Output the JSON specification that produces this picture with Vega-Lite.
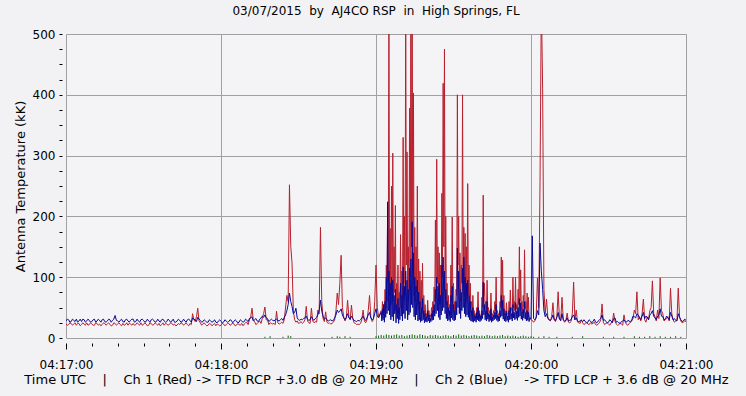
{
"$schema": "https://vega.github.io/schema/vega-lite/v6.json",
"width": 620,
"height": 304,
"autosize": {"type": "none"},
"padding": {"left": 66, "top": 34, "right": 60, "bottom": 58},
"background": "#F2F2F4",
"config": {"view": {"stroke": "#A0A0A0", "fill": "#F4F4F6"}, "font": "DejaVu Sans"},
"title": {"text": "03/07/2015\u00a0 by\u00a0 AJ4CO RSP\u00a0 in\u00a0 High Springs, FL", "fontSize": 12, "fontWeight": "normal", "color": "#000000", "offset": 10, "font": "DejaVu Sans"},
"datasets": {
"rb": [
{"t":0,"r":23,"b":28},{"t":1,"r":22,"b":30},{"t":2,"r":24,"b":27},{"t":3,"r":23,"b":29},{"t":4,"r":21,"b":31},{"t":5,"r":24,"b":28},{"t":6,"r":22,"b":27},{"t":7,"r":23,"b":30},{"t":8,"r":25,"b":28},{"t":9,"r":22,"b":29},
{"t":10,"r":23,"b":27},{"t":11,"r":21,"b":31},{"t":12,"r":24,"b":28},{"t":13,"r":23,"b":29},{"t":14,"r":22,"b":30},{"t":15,"r":24,"b":27},{"t":16,"r":23,"b":28},{"t":17,"r":22,"b":30},{"t":18,"r":21,"b":29},{"t":19,"r":24,"b":37},
{"t":20,"r":23,"b":28},{"t":21,"r":22,"b":29},{"t":22,"r":24,"b":27},{"t":23,"r":22,"b":30},{"t":24,"r":21,"b":28},{"t":25,"r":23,"b":29},{"t":26,"r":24,"b":31},{"t":27,"r":22,"b":27},{"t":28,"r":23,"b":28},{"t":29,"r":25,"b":30},
{"t":30,"r":22,"b":29},{"t":31,"r":23,"b":27},{"t":32,"r":21,"b":28},{"t":33,"r":24,"b":30},{"t":34,"r":22,"b":29},{"t":35,"r":23,"b":27},{"t":36,"r":24,"b":28},{"t":37,"r":22,"b":30},{"t":38,"r":21,"b":28},{"t":39,"r":23,"b":27},
{"t":40,"r":22,"b":29},{"t":41,"r":24,"b":28},{"t":42,"r":23,"b":26},{"t":43,"r":21,"b":28},{"t":44,"r":22,"b":29},{"t":45,"r":24,"b":27},{"t":46,"r":23,"b":28},{"t":47,"r":22,"b":30},{"t":48,"r":24,"b":29},{"t":49,"r":40,"b":33},
{"t":50,"r":27,"b":30},{"t":51,"r":49,"b":34},{"t":52,"r":25,"b":29},{"t":53,"r":23,"b":27},{"t":54,"r":22,"b":28},{"t":55,"r":21,"b":26},{"t":56,"r":23,"b":28},{"t":57,"r":22,"b":27},{"t":58,"r":20,"b":26},{"t":59,"r":22,"b":28},
{"t":60,"r":21,"b":27},{"t":61,"r":23,"b":26},{"t":62,"r":22,"b":28},{"t":63,"r":24,"b":27},{"t":64,"r":22,"b":29},{"t":65,"r":23,"b":27},{"t":66,"r":21,"b":28},{"t":67,"r":22,"b":26},{"t":68,"r":24,"b":28},{"t":69,"r":23,"b":27},
{"t":70,"r":26,"b":29},{"t":71,"r":30,"b":32},{"t":72,"r":49,"b":35},{"t":73,"r":27,"b":30},{"t":74,"r":24,"b":28},{"t":75,"r":28,"b":31},{"t":76,"r":33,"b":36},{"t":77,"r":51,"b":38},{"t":78,"r":30,"b":32},{"t":79,"r":25,"b":29},
{"t":0.5,"r":21,"b":31},{"t":1.5,"r":25,"b":26},{"t":2.5,"r":21,"b":31},{"t":3.5,"r":25,"b":27},{"t":4.5,"r":24,"b":26},{"t":5.5,"r":20,"b":31},{"t":6.5,"r":25,"b":31},{"t":7.5,"r":21,"b":26},{"t":8.5,"r":21,"b":31},{"t":9.5,"r":25,"b":26},
{"t":10.5,"r":21,"b":30},{"t":11.5,"r":25,"b":26},{"t":12.5,"r":21,"b":31},{"t":13.5,"r":20,"b":26},{"t":14.5,"r":25,"b":31},{"t":15.5,"r":21,"b":26},{"t":16.5,"r":25,"b":31},{"t":17.5,"r":20,"b":26},{"t":18.5,"r":25,"b":31},{"t":19.5,"r":21,"b":29},
{"t":20.5,"r":25,"b":26},{"t":21.5,"r":20,"b":31},{"t":22.5,"r":21,"b":26},{"t":23.5,"r":25,"b":31},{"t":24.5,"r":24,"b":26},{"t":25.5,"r":21,"b":31},{"t":26.5,"r":21,"b":26},{"t":27.5,"r":25,"b":31},{"t":28.5,"r":21,"b":26},{"t":29.5,"r":21,"b":31},
{"t":30.5,"r":25,"b":26},{"t":31.5,"r":20,"b":31},{"t":32.5,"r":25,"b":26},{"t":33.5,"r":21,"b":31},{"t":34.5,"r":25,"b":26},{"t":35.5,"r":21,"b":31},{"t":36.5,"r":20,"b":26},{"t":37.5,"r":25,"b":31},{"t":38.5,"r":24,"b":26},{"t":39.5,"r":21,"b":31},
{"t":40.5,"r":25,"b":26},{"t":41.5,"r":21,"b":31},{"t":42.5,"r":20,"b":26},{"t":43.5,"r":24,"b":31},{"t":44.5,"r":25,"b":26},{"t":45.5,"r":21,"b":31},{"t":46.5,"r":25,"b":26},{"t":47.5,"r":20,"b":31},{"t":48.5,"r":22,"b":26},{"t":49.5,"r":30,"b":31},
{"t":50.5,"r":35,"b":27},{"t":51.5,"r":28,"b":31},{"t":52.5,"r":21,"b":26},{"t":53.5,"r":25,"b":30},{"t":54.5,"r":20,"b":26},{"t":55.5,"r":24,"b":30},{"t":56.5,"r":20,"b":26},{"t":57.5,"r":24,"b":30},{"t":58.5,"r":23,"b":25},{"t":59.5,"r":20,"b":30},
{"t":60.5,"r":24,"b":25},{"t":61.5,"r":20,"b":30},{"t":62.5,"r":24,"b":26},{"t":63.5,"r":21,"b":30},{"t":64.5,"r":25,"b":25},{"t":65.5,"r":20,"b":30},{"t":66.5,"r":24,"b":25},{"t":67.5,"r":21,"b":30},{"t":68.5,"r":20,"b":26},{"t":69.5,"r":25,"b":31},
{"t":70.5,"r":22,"b":27},{"t":71.5,"r":35,"b":33},{"t":72.5,"r":30,"b":28},{"t":73.5,"r":22,"b":32},{"t":74.5,"r":26,"b":27},{"t":75.5,"r":24,"b":33},{"t":76.5,"r":40,"b":34},{"t":77.5,"r":30,"b":33},{"t":78.5,"r":22,"b":27},{"t":79.5,"r":24,"b":31},
{"t":80,"r":23,"b":29},{"t":80.5,"r":24,"b":28},{"t":81,"r":22,"b":30},{"t":81.5,"r":44,"b":31},{"t":82,"r":25,"b":29},{"t":82.5,"r":23,"b":28},{"t":83,"r":24,"b":30},{"t":83.5,"r":26,"b":32},{"t":84,"r":24,"b":29},{"t":84.5,"r":30,"b":34},
{"t":85,"r":51,"b":38},{"t":85.5,"r":70,"b":45},{"t":86,"r":60,"b":55},{"t":86.5,"r":252,"b":74},{"t":87,"r":151,"b":60},{"t":87.5,"r":123,"b":52},{"t":88,"r":45,"b":40},{"t":88.5,"r":30,"b":42},{"t":89,"r":26,"b":49},{"t":89.5,"r":28,"b":33},
{"t":90,"r":24,"b":30},{"t":90.5,"r":25,"b":29},{"t":91,"r":27,"b":31},{"t":91.5,"r":24,"b":30},{"t":92,"r":26,"b":32},{"t":92.5,"r":30,"b":33},{"t":93,"r":52,"b":36},{"t":93.5,"r":28,"b":31},{"t":94,"r":25,"b":29},{"t":94.5,"r":24,"b":30},
{"t":95,"r":49,"b":35},{"t":95.5,"r":28,"b":31},{"t":96,"r":25,"b":29},{"t":96.5,"r":27,"b":32},{"t":97,"r":26,"b":34},{"t":97.5,"r":46,"b":38},{"t":98,"r":40,"b":45},{"t":98.5,"r":182,"b":62},{"t":99,"r":60,"b":44},{"t":99.5,"r":32,"b":36},
{"t":100,"r":27,"b":31},{"t":100.5,"r":43,"b":33},{"t":101,"r":26,"b":30},{"t":101.5,"r":24,"b":28},{"t":102,"r":25,"b":29},{"t":102.5,"r":23,"b":30},{"t":103,"r":24,"b":28},{"t":103.5,"r":26,"b":29},{"t":104,"r":30,"b":33},{"t":104.5,"r":45,"b":38},
{"t":105,"r":74,"b":46},{"t":105.5,"r":55,"b":42},{"t":106,"r":90,"b":44},{"t":106.5,"r":136,"b":48},{"t":107,"r":50,"b":38},{"t":107.5,"r":35,"b":33},{"t":108,"r":28,"b":30},{"t":108.5,"r":33,"b":34},{"t":109,"r":62,"b":40},{"t":109.5,"r":35,"b":33},
{"t":110,"r":30,"b":31},{"t":110.5,"r":54,"b":36},{"t":111,"r":32,"b":32},{"t":111.5,"r":25,"b":29},{"t":112,"r":24,"b":28},{"t":112.5,"r":22,"b":27},{"t":113,"r":23,"b":29},{"t":113.5,"r":22,"b":28},{"t":114,"r":24,"b":30},{"t":114.5,"r":30,"b":33},
{"t":115,"r":46,"b":36},{"t":115.5,"r":28,"b":31},{"t":116,"r":25,"b":29},{"t":116.5,"r":30,"b":33},{"t":117,"r":45,"b":38},{"t":117.5,"r":70,"b":42},{"t":118,"r":35,"b":33},{"t":118.5,"r":27,"b":30},{"t":119,"r":30,"b":32},{"t":119.5,"r":60,"b":40},
{"t":120,"r":120,"b":48},{"t":120.5,"r":50,"b":36},{"t":121,"r":35,"b":33},{"t":121.5,"r":40,"b":38},{"t":122,"r":45,"b":42},{"t":122.5,"r":60,"b":48},{"t":123,"r":55,"b":55},{"t":123.5,"r":80,"b":60},{"t":124,"r":120,"b":100},{"t":124.5,"r":215,"b":224},
{"t":125,"r":560,"b":110},{"t":125.5,"r":180,"b":90},{"t":126,"r":250,"b":100},{"t":126.5,"r":304,"b":95},{"t":127,"r":150,"b":70},{"t":127.5,"r":218,"b":80},{"t":128,"r":90,"b":55},{"t":128.5,"r":120,"b":65},{"t":129,"r":75,"b":50},{"t":129.5,"r":170,"b":90},
{"t":130,"r":110,"b":70},{"t":130.5,"r":330,"b":117},{"t":131,"r":200,"b":85},{"t":131.5,"r":560,"b":110},{"t":132,"r":306,"b":95},{"t":132.5,"r":150,"b":80},{"t":133,"r":378,"b":115},{"t":133.5,"r":560,"b":130},{"t":134,"r":560,"b":191},{"t":134.5,"r":403,"b":140},
{"t":135,"r":182,"b":100},{"t":135.5,"r":150,"b":85},{"t":136,"r":250,"b":95},{"t":136.5,"r":130,"b":75},{"t":137,"r":110,"b":60},{"t":137.5,"r":95,"b":50},{"t":138,"r":123,"b":65},{"t":138.5,"r":70,"b":45},{"t":139,"r":55,"b":40},{"t":139.5,"r":40,"b":35},
{"t":140,"r":62,"b":45},{"t":140.5,"r":45,"b":38},{"t":141,"r":38,"b":33},{"t":141.5,"r":50,"b":40},{"t":142,"r":60,"b":45},{"t":142.5,"r":84,"b":55},{"t":143,"r":194,"b":80},{"t":143.5,"r":294,"b":100},{"t":144,"r":150,"b":85},{"t":144.5,"r":140,"b":90},
{"t":145,"r":120,"b":70},{"t":145.5,"r":238,"b":120},{"t":146,"r":419,"b":133},{"t":146.5,"r":475,"b":110},{"t":147,"r":200,"b":80},{"t":147.5,"r":90,"b":60},{"t":148,"r":70,"b":50},{"t":148.5,"r":55,"b":45},{"t":149,"r":120,"b":70},{"t":149.5,"r":199,"b":85},
{"t":150,"r":90,"b":55},{"t":150.5,"r":60,"b":45},{"t":151,"r":80,"b":60},{"t":151.5,"r":400,"b":148},{"t":152,"r":200,"b":110},{"t":152.5,"r":140,"b":80},{"t":153,"r":120,"b":75},{"t":153.5,"r":400,"b":115},{"t":154,"r":182,"b":133},{"t":154.5,"r":172,"b":100},
{"t":155,"r":150,"b":90},{"t":155.5,"r":254,"b":95},{"t":156,"r":120,"b":70},{"t":156.5,"r":90,"b":60},{"t":157,"r":60,"b":45},{"t":157.5,"r":70,"b":50},{"t":158,"r":45,"b":38},{"t":158.5,"r":40,"b":36},{"t":159,"r":50,"b":42},{"t":159.5,"r":76,"b":50},
{"t":160,"r":45,"b":40},{"t":160.5,"r":38,"b":36},{"t":161,"r":67,"b":45},{"t":161.5,"r":235,"b":92},{"t":162,"r":90,"b":55},{"t":162.5,"r":60,"b":45},{"t":163,"r":95,"b":60},{"t":163.5,"r":50,"b":40},{"t":164,"r":45,"b":38},{"t":164.5,"r":74,"b":48},
{"t":165,"r":40,"b":35},{"t":165.5,"r":45,"b":38},{"t":166,"r":60,"b":42},{"t":166.5,"r":100,"b":55},{"t":167,"r":45,"b":38},{"t":167.5,"r":40,"b":36},{"t":168,"r":60,"b":45},{"t":168.5,"r":133,"b":70},{"t":169,"r":128,"b":62},{"t":169.5,"r":70,"b":48},
{"t":170,"r":45,"b":40},{"t":170.5,"r":58,"b":44},{"t":171,"r":40,"b":36},{"t":171.5,"r":60,"b":45},{"t":172,"r":79,"b":50},{"t":172.5,"r":50,"b":40},{"t":173,"r":100,"b":55},{"t":173.5,"r":60,"b":42},{"t":174,"r":100,"b":58},{"t":174.5,"r":55,"b":44},
{"t":175,"r":80,"b":50},{"t":175.5,"r":150,"b":65},{"t":176,"r":112,"b":58},{"t":176.5,"r":60,"b":44},{"t":177,"r":70,"b":48},{"t":177.5,"r":145,"b":60},{"t":178,"r":60,"b":42},{"t":178.5,"r":74,"b":45},{"t":179,"r":67,"b":42},{"t":179.5,"r":35,"b":33},
{"t":122.25,"r":33,"b":28},{"t":122.75,"r":38,"b":30},{"t":123.25,"r":42,"b":26},{"t":123.75,"r":50,"b":34},{"t":124.25,"r":60,"b":40},{"t":124.75,"r":90,"b":45},{"t":125.25,"r":70,"b":38},{"t":125.75,"r":55,"b":30},{"t":126.25,"r":80,"b":35},{"t":126.75,"r":60,"b":28},
{"t":127.25,"r":75,"b":40},{"t":127.75,"r":45,"b":25},{"t":128.25,"r":55,"b":32},{"t":128.75,"r":40,"b":24},{"t":129.25,"r":50,"b":30},{"t":129.75,"r":65,"b":36},{"t":130.25,"r":48,"b":28},{"t":130.75,"r":90,"b":40},{"t":131.25,"r":70,"b":32},{"t":131.75,"r":120,"b":45},
{"t":132.25,"r":60,"b":30},{"t":132.75,"r":80,"b":38},{"t":133.25,"r":100,"b":42},{"t":133.75,"r":150,"b":55},{"t":134.25,"r":120,"b":50},{"t":134.75,"r":70,"b":35},{"t":135.25,"r":60,"b":30},{"t":135.75,"r":75,"b":38},{"t":136.25,"r":55,"b":28},{"t":136.75,"r":45,"b":30},
{"t":137.25,"r":50,"b":26},{"t":137.75,"r":40,"b":28},{"t":138.25,"r":45,"b":30},{"t":138.75,"r":35,"b":25},{"t":139.25,"r":38,"b":27},{"t":139.75,"r":33,"b":26},{"t":140.25,"r":36,"b":28},{"t":140.75,"r":32,"b":25},{"t":141.25,"r":35,"b":27},{"t":141.75,"r":38,"b":29},
{"t":142.25,"r":42,"b":30},{"t":142.75,"r":60,"b":36},{"t":143.25,"r":80,"b":40},{"t":143.75,"r":90,"b":45},{"t":144.25,"r":60,"b":34},{"t":144.75,"r":55,"b":30},{"t":145.25,"r":70,"b":38},{"t":145.75,"r":100,"b":45},{"t":146.25,"r":150,"b":50},{"t":146.75,"r":80,"b":40},
{"t":147.25,"r":55,"b":32},{"t":147.75,"r":45,"b":28},{"t":148.25,"r":40,"b":30},{"t":148.75,"r":48,"b":27},{"t":149.25,"r":60,"b":33},{"t":149.75,"r":55,"b":30},{"t":150.25,"r":42,"b":28},{"t":150.75,"r":45,"b":30},{"t":151.25,"r":70,"b":38},{"t":151.75,"r":120,"b":50},
{"t":152.25,"r":80,"b":40},{"t":152.75,"r":60,"b":32},{"t":153.25,"r":90,"b":45},{"t":153.75,"r":100,"b":50},{"t":154.25,"r":70,"b":40},{"t":154.75,"r":60,"b":35},{"t":155.25,"r":80,"b":38},{"t":155.75,"r":70,"b":34},{"t":156.25,"r":50,"b":30},{"t":156.75,"r":45,"b":28},
{"t":157.25,"r":40,"b":27},{"t":157.75,"r":38,"b":26},{"t":158.25,"r":35,"b":28},{"t":158.75,"r":33,"b":26},{"t":159.25,"r":40,"b":30},{"t":159.75,"r":36,"b":28},{"t":160.25,"r":34,"b":27},{"t":160.75,"r":38,"b":29},{"t":161.25,"r":50,"b":32},{"t":161.75,"r":70,"b":38},
{"t":162.25,"r":45,"b":30},{"t":162.75,"r":40,"b":28},{"t":163.25,"r":48,"b":31},{"t":163.75,"r":36,"b":27},{"t":164.25,"r":38,"b":29},{"t":164.75,"r":34,"b":26},{"t":165.25,"r":36,"b":28},{"t":165.75,"r":40,"b":30},{"t":166.25,"r":45,"b":32},{"t":166.75,"r":40,"b":29},
{"t":167.25,"r":35,"b":27},{"t":167.75,"r":38,"b":28},{"t":168.25,"r":50,"b":34},{"t":168.75,"r":60,"b":36},{"t":169.25,"r":45,"b":31},{"t":169.75,"r":38,"b":28},{"t":170.25,"r":36,"b":27},{"t":170.75,"r":40,"b":29},{"t":171.25,"r":35,"b":26},{"t":171.75,"r":42,"b":30},
{"t":172.25,"r":45,"b":31},{"t":172.75,"r":38,"b":28},{"t":173.25,"r":50,"b":33},{"t":173.75,"r":45,"b":30},{"t":174.25,"r":48,"b":32},{"t":174.75,"r":40,"b":29},{"t":175.25,"r":55,"b":34},{"t":175.75,"r":60,"b":36},{"t":176.25,"r":45,"b":31},{"t":176.75,"r":40,"b":29},
{"t":177.25,"r":50,"b":33},{"t":177.75,"r":48,"b":31},{"t":178.25,"r":38,"b":28},{"t":178.75,"r":40,"b":29},{"t":179.25,"r":35,"b":27},
{"t":180,"r":30,"b":31},{"t":180.5,"r":29,"b":168},{"t":181,"r":26,"b":32},{"t":181.5,"r":28,"b":30},{"t":182,"r":35,"b":33},{"t":182.5,"r":99,"b":45},{"t":183,"r":50,"b":38},{"t":183.5,"r":257,"b":156},{"t":184,"r":560,"b":110},{"t":184.5,"r":411,"b":80},
{"t":185,"r":80,"b":45},{"t":185.5,"r":40,"b":35},{"t":186,"r":64,"b":40},{"t":186.5,"r":35,"b":32},{"t":187,"r":30,"b":30},{"t":187.5,"r":28,"b":29},{"t":188,"r":35,"b":32},{"t":188.5,"r":58,"b":38},{"t":189,"r":30,"b":30},{"t":189.5,"r":27,"b":29},
{"t":190,"r":35,"b":34},{"t":190.5,"r":76,"b":42},{"t":191,"r":32,"b":31},{"t":191.5,"r":28,"b":29},{"t":192,"r":67,"b":40},{"t":192.5,"r":30,"b":30},{"t":193,"r":26,"b":28},{"t":193.5,"r":28,"b":29},{"t":194,"r":41,"b":33},{"t":194.5,"r":26,"b":28},
{"t":195,"r":25,"b":29},{"t":195.5,"r":27,"b":30},{"t":196,"r":40,"b":35},{"t":196.5,"r":92,"b":38},{"t":197,"r":30,"b":30},{"t":197.5,"r":46,"b":33},{"t":198,"r":26,"b":28},{"t":198.5,"r":25,"b":27},{"t":199,"r":24,"b":28},{"t":199.5,"r":30,"b":29},
{"t":200,"r":25,"b":27},{"t":201,"r":24,"b":27},{"t":202,"r":23,"b":26},{"t":203,"r":25,"b":28},{"t":204,"r":24,"b":27},{"t":205,"r":22,"b":26},{"t":206,"r":23,"b":28},{"t":207,"r":30,"b":32},{"t":207.5,"r":56,"b":38},{"t":208,"r":26,"b":29},
{"t":209,"r":24,"b":27},{"t":210,"r":23,"b":26},{"t":211,"r":25,"b":28},{"t":212,"r":41,"b":32},{"t":213,"r":23,"b":26},{"t":214,"r":22,"b":25},{"t":215,"r":23,"b":27},{"t":216,"r":38,"b":30},{"t":217,"r":22,"b":26},{"t":218,"r":24,"b":28},
{"t":219,"r":28,"b":30},{"t":220,"r":46,"b":35},{"t":221,"r":76,"b":40},{"t":222,"r":35,"b":33},{"t":223,"r":40,"b":36},{"t":223.5,"r":64,"b":42},{"t":224,"r":30,"b":32},{"t":225,"r":35,"b":34},{"t":226,"r":45,"b":38},{"t":227,"r":94,"b":45},
{"t":228,"r":35,"b":33},{"t":229,"r":46,"b":36},{"t":230,"r":99,"b":48},{"t":231,"r":40,"b":35},{"t":232,"r":30,"b":31},{"t":233,"r":35,"b":33},{"t":234,"r":82,"b":42},{"t":235,"r":30,"b":30},{"t":236,"r":28,"b":29},{"t":237,"r":82,"b":40},
{"t":238,"r":28,"b":30},{"t":239,"r":26,"b":28},{"t":240,"r":27,"b":29},
{"t":200.5,"r":22,"b":30},{"t":201.5,"r":26,"b":25},{"t":202.5,"r":22,"b":30},{"t":203.5,"r":23,"b":25},{"t":204.5,"r":26,"b":31},{"t":205.5,"r":21,"b":25},{"t":206.5,"r":25,"b":30},{"t":208.5,"r":22,"b":30},{"t":209.5,"r":25,"b":25},{"t":210.5,"r":21,"b":30},
{"t":211.5,"r":26,"b":25},{"t":212.5,"r":28,"b":33},{"t":213.5,"r":21,"b":27},{"t":214.5,"r":24,"b":24},{"t":215.5,"r":21,"b":28},{"t":216.5,"r":26,"b":27},{"t":217.5,"r":21,"b":29},{"t":218.5,"r":26,"b":26},{"t":219.5,"r":32,"b":36},{"t":220.5,"r":40,"b":33},
{"t":221.5,"r":30,"b":38},{"t":222.5,"r":28,"b":30},{"t":224.5,"r":26,"b":36},{"t":225.5,"r":30,"b":30},{"t":226.5,"r":50,"b":40},{"t":227.5,"r":40,"b":36},{"t":228.5,"r":28,"b":30},{"t":229.5,"r":32,"b":38},{"t":230.5,"r":45,"b":36},{"t":231.5,"r":28,"b":30},
{"t":232.5,"r":32,"b":36},{"t":233.5,"r":28,"b":30},{"t":234.5,"r":40,"b":36},{"t":235.5,"r":26,"b":32},{"t":236.5,"r":30,"b":28},{"t":237.5,"r":35,"b":34},{"t":238.5,"r":25,"b":27},{"t":239.5,"r":28,"b":31}
],
"green": [
{"t":77,"g":2},{"t":79,"g":3},{"t":84,"g":2},{"t":86,"g":4},{"t":87,"g":3},{"t":103,"g":2},{"t":105,"g":3},{"t":106,"g":2},{"t":108,"g":3},{"t":110,"g":2},
{"t":120,"g":3},{"t":121,"g":4},{"t":122,"g":5},{"t":123,"g":4},{"t":124,"g":6},{"t":125,"g":5},{"t":126,"g":4},{"t":127,"g":5},{"t":128,"g":6},{"t":129,"g":4},
{"t":130,"g":5},{"t":131,"g":3},{"t":132,"g":4},{"t":133,"g":5},{"t":134,"g":6},{"t":135,"g":5},{"t":136,"g":4},{"t":137,"g":6},{"t":138,"g":5},{"t":139,"g":4},
{"t":140,"g":3},{"t":141,"g":5},{"t":142,"g":4},{"t":143,"g":5},{"t":144,"g":4},{"t":145,"g":3},{"t":146,"g":4},{"t":147,"g":5},{"t":148,"g":4},{"t":149,"g":3},
{"t":150,"g":5},{"t":151,"g":4},{"t":152,"g":6},{"t":153,"g":4},{"t":154,"g":5},{"t":155,"g":4},{"t":156,"g":3},{"t":157,"g":4},{"t":158,"g":5},{"t":159,"g":4},
{"t":160,"g":3},{"t":161,"g":4},{"t":162,"g":3},{"t":163,"g":5},{"t":164,"g":4},{"t":165,"g":3},{"t":166,"g":4},{"t":167,"g":3},{"t":168,"g":4},{"t":169,"g":5},
{"t":170,"g":3},{"t":171,"g":4},{"t":172,"g":3},{"t":173,"g":4},{"t":174,"g":3},{"t":175,"g":2},{"t":176,"g":3},{"t":177,"g":4},{"t":178,"g":3},{"t":179,"g":2},
{"t":180,"g":3},{"t":181,"g":2},{"t":183,"g":2},{"t":185,"g":3},{"t":187,"g":2},{"t":190,"g":2},{"t":196,"g":2},{"t":200,"g":3},{"t":208,"g":2},{"t":212,"g":2},
{"t":216,"g":2},{"t":220,"g":3},{"t":222,"g":2},{"t":224,"g":2},{"t":226,"g":3},{"t":228,"g":2},{"t":230,"g":3},{"t":232,"g":2},{"t":234,"g":2},{"t":236,"g":3},{"t":238,"g":2}
]
},
"encoding": {
"x": {"field": "t", "type": "quantitative",
 "scale": {"domain": [0, 240], "nice": false, "zero": false},
 "axis": {
  "title": "Time UTC\u00a0\u00a0\u00a0 |\u00a0\u00a0\u00a0 Ch 1 (Red) -> TFD RCP +3.0 dB @ 20 MHz\u00a0\u00a0\u00a0 |\u00a0\u00a0\u00a0 Ch 2 (Blue)\u00a0\u00a0\u00a0 -> TFD LCP + 3.6 dB @ 20 MHz",
  "values": [0,10,20,30,40,50,60,70,80,90,100,110,120,130,140,150,160,170,180,190,200,210,220,230,240],
  "labelExpr": "datum.value % 60 === 0 ? '04:' + (17 + datum.value / 60) + ':00' : ''",
  "labelFlush": false, "labelOverlap": false, "labelBound": false,
  "labelFont": "DejaVu Sans", "labelFontSize": 12, "labelColor": "#000000", "labelPadding": 10,
  "titleFont": "DejaVu Sans", "titleFontSize": 13, "titleFontWeight": "normal", "titleColor": "#000000", "titlePadding": 3,
  "domain": false, "offset": 5,
  "tickColor": "#000000", "tickWidth": 1,
  "tickSize": {"condition": {"test": "datum.value % 60 === 0", "value": 6}, "value": 3},
  "grid": true, "gridColor": "#A0A0A0", "gridWidth": 1,
  "gridOpacity": {"condition": {"test": "datum.value % 60 === 0 && datum.value > 0 && datum.value < 240", "value": 1}, "value": 0}
 }}
},
"layer": [
{"data": {"name": "rb"}, "mark": {"type": "line", "color": "#B8202E", "strokeWidth": 1, "clip": true},
 "encoding": {"y": {"field": "r", "type": "quantitative",
  "scale": {"domain": [0, 500], "nice": false},
  "axis": {
   "title": "Antenna Temperature (kK)",
   "values": [0,25,50,75,100,125,150,175,200,225,250,275,300,325,350,375,400,425,450,475,500],
   "labelExpr": "datum.value % 100 === 0 ? datum.label : ''",
   "labelOverlap": false, "labelBound": false, "labelFlush": false,
   "labelFont": "DejaVu Sans", "labelFontSize": 12, "labelColor": "#000000", "labelPadding": 4,
   "titleFont": "DejaVu Sans", "titleFontSize": 13, "titleFontWeight": "normal", "titleColor": "#000000", "titlePadding": 5,
   "domain": false, "offset": 4, "tickSize": 3, "tickColor": "#000000",
   "grid": true, "gridColor": "#A0A0A0", "gridWidth": 1,
   "gridOpacity": {"condition": {"test": "datum.value % 100 === 0 && datum.value > 0 && datum.value < 500", "value": 1}, "value": 0}
  }}}},
{"data": {"name": "rb"}, "mark": {"type": "line", "color": "#0A0A96", "strokeWidth": 1, "clip": true},
 "encoding": {"y": {"field": "b", "type": "quantitative",
  "scale": {"domain": [0, 500], "nice": false},
  "axis": {
   "title": "Antenna Temperature (kK)",
   "values": [0,25,50,75,100,125,150,175,200,225,250,275,300,325,350,375,400,425,450,475,500],
   "labelExpr": "datum.value % 100 === 0 ? datum.label : ''",
   "labelOverlap": false, "labelBound": false, "labelFlush": false,
   "labelFont": "DejaVu Sans", "labelFontSize": 12, "labelColor": "#000000", "labelPadding": 4,
   "titleFont": "DejaVu Sans", "titleFontSize": 13, "titleFontWeight": "normal", "titleColor": "#000000", "titlePadding": 5,
   "domain": false, "offset": 4, "tickSize": 3, "tickColor": "#000000",
   "grid": true, "gridColor": "#A0A0A0", "gridWidth": 1,
   "gridOpacity": {"condition": {"test": "datum.value % 100 === 0 && datum.value > 0 && datum.value < 500", "value": 1}, "value": 0}
  }}}},
{"data": {"name": "green"}, "mark": {"type": "rule", "color": "#007000", "strokeWidth": 1, "clip": true},
 "encoding": {"y": {"field": "g", "type": "quantitative",
  "scale": {"domain": [0, 500], "nice": false},
  "axis": {
   "title": "Antenna Temperature (kK)",
   "values": [0,25,50,75,100,125,150,175,200,225,250,275,300,325,350,375,400,425,450,475,500],
   "labelExpr": "datum.value % 100 === 0 ? datum.label : ''",
   "labelOverlap": false, "labelBound": false, "labelFlush": false,
   "labelFont": "DejaVu Sans", "labelFontSize": 12, "labelColor": "#000000", "labelPadding": 4,
   "titleFont": "DejaVu Sans", "titleFontSize": 13, "titleFontWeight": "normal", "titleColor": "#000000", "titlePadding": 5,
   "domain": false, "offset": 4, "tickSize": 3, "tickColor": "#000000",
   "grid": true, "gridColor": "#A0A0A0", "gridWidth": 1,
   "gridOpacity": {"condition": {"test": "datum.value % 100 === 0 && datum.value > 0 && datum.value < 500", "value": 1}, "value": 0}
  }}, "y2": {"datum": 0}}}
]
}
